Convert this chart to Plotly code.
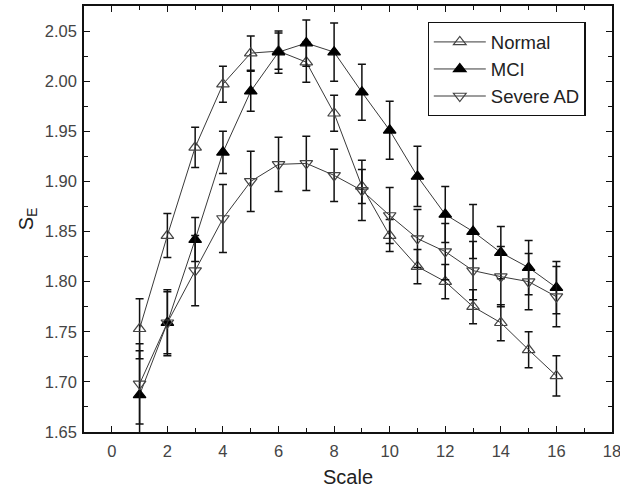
import plotly.graph_objects as go

# Multiscale entropy per scale factor, mean ± error
scale = list(range(1, 17))

normal = [1.753, 1.846, 1.934, 1.997, 2.028, 2.030, 2.019, 1.968,
          1.895, 1.846, 1.815, 1.800, 1.775, 1.759, 1.732, 1.706]
normal_err = [0.030, 0.022, 0.020, 0.018, 0.017, 0.018, 0.020, 0.018,
              0.017, 0.016, 0.017, 0.017, 0.017, 0.018, 0.018, 0.020]

mci = [1.687, 1.759, 1.842, 1.929, 1.990, 2.029, 2.038, 2.029,
       1.989, 1.951, 1.905, 1.867, 1.850, 1.829, 1.814, 1.794]
mci_err = [0.044, 0.033, 0.022, 0.021, 0.020, 0.021, 0.023, 0.029,
           0.028, 0.029, 0.030, 0.028, 0.027, 0.026, 0.027, 0.026]

severe_ad = [1.698, 1.759, 1.811, 1.863, 1.900, 1.917, 1.918, 1.906,
             1.891, 1.866, 1.843, 1.830, 1.811, 1.805, 1.800, 1.785]
severe_ad_err = [0.040, 0.031, 0.035, 0.034, 0.030, 0.027, 0.027, 0.026,
                 0.030, 0.028, 0.029, 0.028, 0.029, 0.030, 0.028, 0.030]

x_ticks = list(range(0, 19, 2))
y_ticks = [1.65, 1.70, 1.75, 1.80, 1.85, 1.90, 1.95, 2.00, 2.05]

FONT = "Liberation Sans, Arial, sans-serif"
LINE = "#3a3a3a"


def series(name, y, err, symbol, mcolor):
    return go.Scatter(
        x=scale, y=y, name=name, mode="lines+markers",
        line=dict(color=LINE, width=1),
        marker=dict(symbol=symbol, size=11, color=mcolor,
                    line=dict(color=mcolor, width=1.2)),
        error_y=dict(type="data", array=err, visible=True,
                     color="#111111", thickness=1.5, width=4),
    )


fig = go.Figure([
    series("Normal", normal, normal_err, "triangle-up-open", "#444444"),
    series("MCI", mci, mci_err, "triangle-up", "#000000"),
    series("Severe AD", severe_ad, severe_ad_err, "triangle-down-open", "#444444"),
])

axis_common = dict(
    showline=True, linecolor="#111111", linewidth=1.5, mirror="allticks",
    ticks="inside", ticklen=6, tickwidth=1.2, tickcolor="#111111",
    showgrid=False, zeroline=False, ticklabeloverflow="allow",
    automargin=False,
    tickfont=dict(family=FONT, size=16.5, color="#444444"),
    title_font=dict(family=FONT, size=20, color="#222222"),
)

fig.update_xaxes(
    range=[-1, 18], tickvals=x_ticks, title_text="Scale", title_standoff=11,
    ticklabelstandoff=3,
    minor=dict(dtick=1, ticks="inside", ticklen=4, tickcolor="#111111"),
    **axis_common,
)
fig.update_yaxes(
    range=[1.65, 2.075], tickvals=y_ticks, tickformat=".2f",
    title_text="S<sub>E</sub>", title_standoff=6, ticklabelstandoff=2,
    minor=dict(dtick=0.025, ticks="inside", ticklen=4, tickcolor="#111111"),
    **axis_common,
)

fig.update_layout(
    width=620, height=493,
    margin=dict(l=84, r=8, t=6, b=61, autoexpand=False),
    paper_bgcolor="white", plot_bgcolor="white",
    showlegend=True,
    legend=dict(
        x=0.95, y=0.962, xanchor="right", yanchor="top",
        bgcolor="white", bordercolor="#111111", borderwidth=1.2,
        font=dict(family=FONT, size=18.5, color="#222222"),
        tracegroupgap=0, itemwidth=52,
    ),
)

fig.write_html("out.html")
